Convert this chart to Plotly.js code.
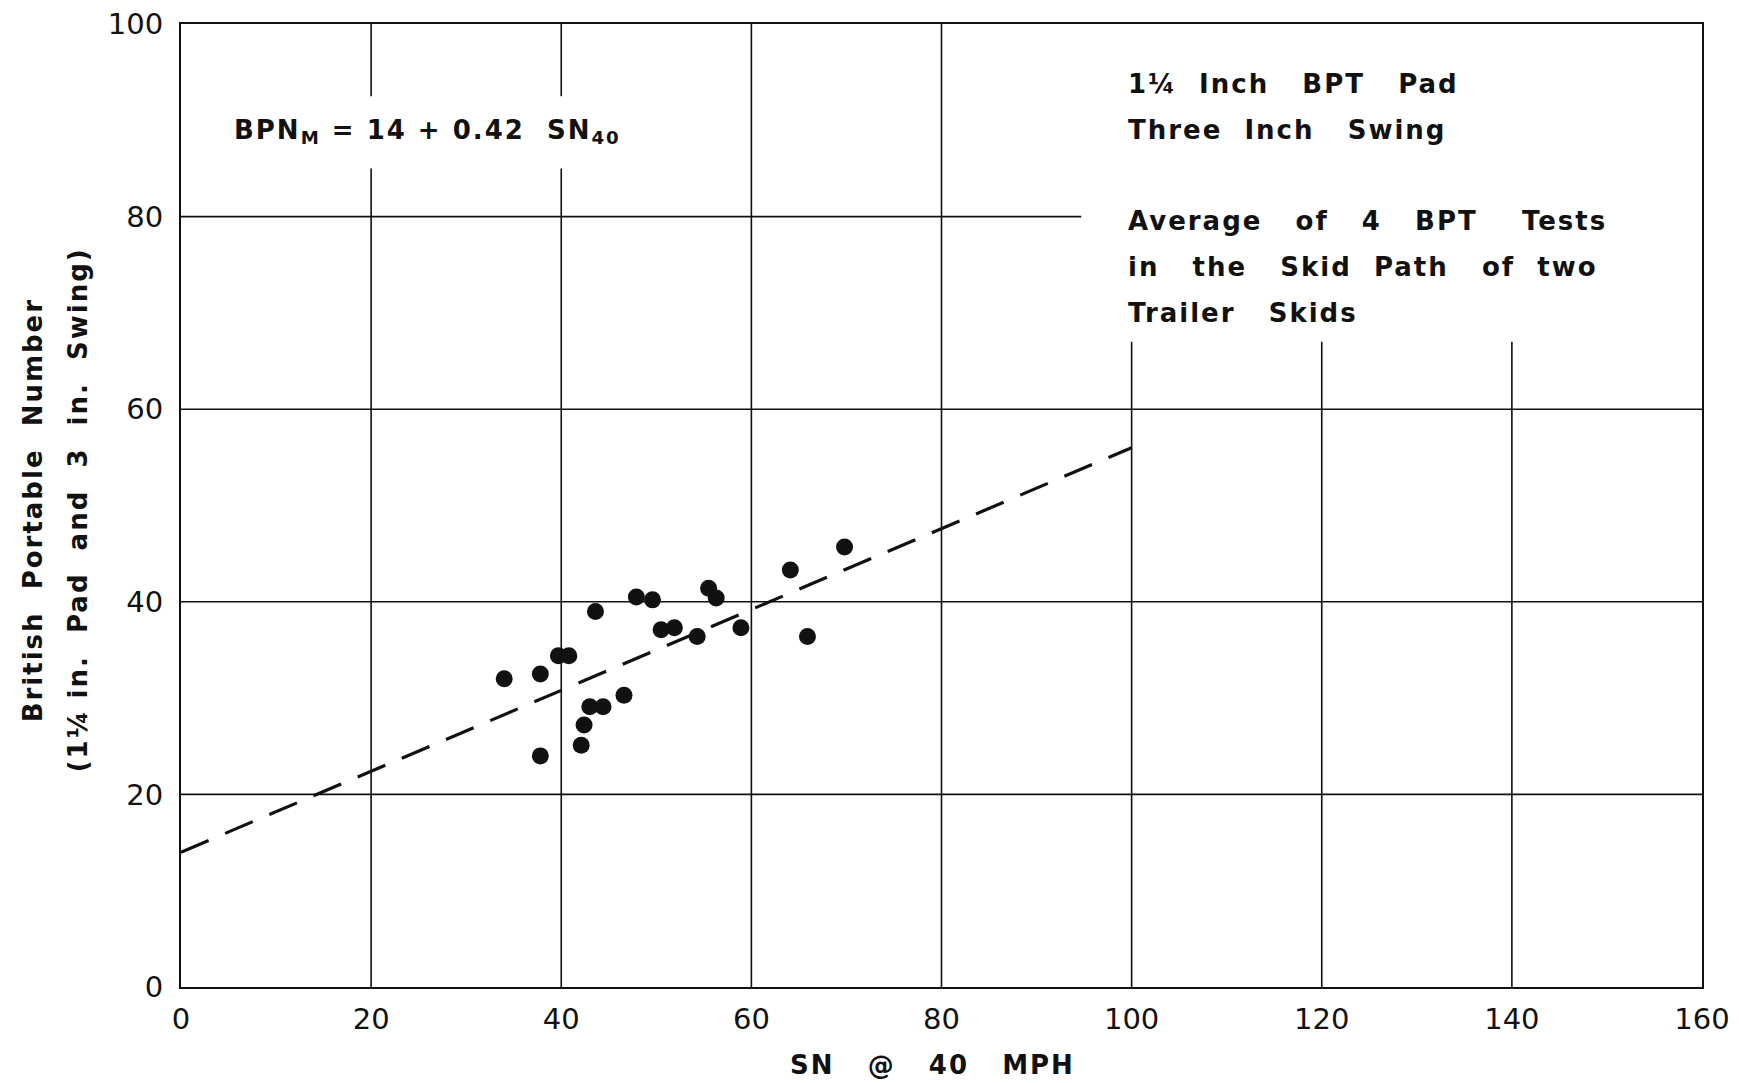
<!DOCTYPE html>
<html>
<head>
<meta charset="utf-8">
<script src="https://cdn.plot.ly/plotly-3.0.1.min.js"></script>
<style>
  html, body { margin: 0; padding: 0; background: #fff; }
  #chart { width: 1739px; height: 1083px; }
  text.annotation-text { letter-spacing: 2px; }
</style>
</head>
<body>
<div id="chart"></div>
<script>
// ---- Data ----
const snValues = [34.0, 37.8, 37.8, 39.7, 40.8, 43.6, 47.9, 49.6, 50.5, 51.9, 54.3, 55.5, 56.3, 58.9, 64.1, 69.8, 65.9, 43.0, 44.4, 46.6, 42.4, 42.1];
const bpnValues = [32.0, 32.5, 24.0, 34.4, 34.4, 39.0, 40.5, 40.2, 37.1, 37.3, 36.4, 41.4, 40.4, 37.3, 43.3, 45.7, 36.4, 29.1, 29.1, 30.3, 27.2, 25.1];
const fitX = [0, 100];
const fitY = [14, 56];
const xTicks = [0, 20, 40, 60, 80, 100, 120, 140, 160];
const yTicks = [0, 20, 40, 60, 80, 100];
const xTickLabels = ['0', '20', '40', '60', '80', '100', '120', '140', '160'];
const yTickLabels = ['0', '20', '40', '60', '80', '100'];
const equationText = 'BPN<sub>M</sub> = 14 + 0.42  SN<sub>40</sub>';
const noteLines = [
  '1¼  Inch   BPT   Pad',
  'Three  Inch   Swing',
  '',
  'Average   of   4   BPT    Tests',
  'in   the   Skid  Path   of  two',
  'Trailer   Skids'
];
const xTitle = 'SN   @   40   MPH';
const yTitleLine1 = 'British  Portable  Number';
const yTitleLine2 = '(1¼ in.  Pad  and  3  in.  Swing)';

// grid segments: [value, from, to]
const vGrid = [[20, 0, 85], [20, 92.5, 100], [40, 0, 85], [40, 92.5, 100], [60, 0, 100], [80, 0, 100], [100, 0, 67], [120, 0, 67], [140, 0, 67]];
const hGrid = [[20, 0, 160], [40, 0, 160], [60, 0, 160], [80, 0, 94.7]];

const font = 'DejaVu Sans, Liberation Sans, sans-serif';
const nb = s => s.replace(/ /g, '\u00a0');
const textFont = {family: font, size: 26, color: '#111', weight: 'bold'};

const shapes = [];
vGrid.forEach(g => shapes.push({type: 'line', xref: 'x', yref: 'y', x0: g[0], x1: g[0], y0: g[1], y1: g[2], line: {color: '#111', width: 1.6}, layer: 'below'}));
hGrid.forEach(g => shapes.push({type: 'line', xref: 'x', yref: 'y', x0: g[1], x1: g[2], y0: g[0], y1: g[0], line: {color: '#111', width: 1.6}, layer: 'below'}));

const annotations = [];
annotations.push({xref: 'x', yref: 'y', x: 5.4, y: 88.8, xanchor: 'left', yanchor: 'middle', showarrow: false, text: nb(equationText), font: textFont});
const noteY = [93.8, 89.0, 0, 79.5, 74.8, 70.0];
noteLines.forEach((t, i) => {
  if (!t) return;
  annotations.push({xref: 'x', yref: 'y', x: 99.4, y: noteY[i], xanchor: 'left', yanchor: 'middle', showarrow: false, text: nb(t), font: textFont});
});
annotations.push({xref: 'paper', yref: 'paper', x: 0.494, y: -0.081, xanchor: 'center', yanchor: 'middle', showarrow: false, text: nb(xTitle), font: textFont});
annotations.push({xref: 'paper', yref: 'paper', x: -0.0973, y: 0.495, xanchor: 'center', yanchor: 'middle', textangle: -90, showarrow: false, text: nb(yTitleLine1), font: textFont});
annotations.push({xref: 'paper', yref: 'paper', x: -0.0677, y: 0.495, xanchor: 'center', yanchor: 'middle', textangle: -90, showarrow: false, text: nb(yTitleLine2), font: textFont});

const traces = [
  {x: fitX, y: fitY, mode: 'lines', line: {color: '#111', width: 3.2, dash: '30px,18px'}, hoverinfo: 'skip', showlegend: false},
  {x: snValues, y: bpnValues, mode: 'markers', marker: {color: '#111', size: 17, line: {width: 0}}, showlegend: false}
];

const layout = {
  width: 1739, height: 1083,
  margin: {l: 181, r: 37, t: 24, b: 96},
  paper_bgcolor: '#fff', plot_bgcolor: '#fff',
  showlegend: false,
  xaxis: {
    range: [0, 160], tickmode: 'array', tickvals: xTicks, ticktext: xTickLabels,
    showgrid: false, zeroline: false, showline: true, mirror: true, linecolor: '#111', linewidth: 2,
    ticks: '', ticklabelstandoff: 5,
    tickfont: {family: font, size: 29, color: '#111'}
  },
  yaxis: {
    range: [0, 100], tickmode: 'array', tickvals: yTicks, ticktext: yTickLabels,
    showgrid: false, zeroline: false, showline: true, mirror: true, linecolor: '#111', linewidth: 2,
    ticks: '', ticklabelstandoff: 10,
    tickfont: {family: font, size: 29, color: '#111'}
  },
  shapes: shapes,
  annotations: annotations
};

Plotly.newPlot('chart', traces, layout, {displayModeBar: false, staticPlot: true});
</script>
</body>
</html>
